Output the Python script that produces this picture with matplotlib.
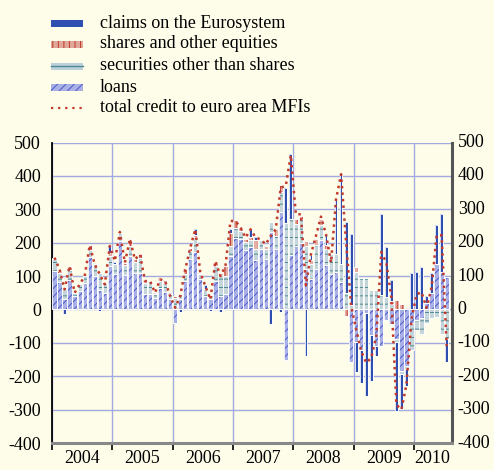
import matplotlib
matplotlib.use("Agg")
import matplotlib.pyplot as plt
from matplotlib.patches import Rectangle
from matplotlib.lines import Line2D
import matplotlib.transforms as mtransforms
import numpy as np

plt.rcParams['font.family'] = ['Liberation Serif', 'DejaVu Serif']
plt.rcParams['hatch.linewidth'] = 0.7
plt.rcParams['axes.unicode_minus'] = False

years = ['2004', '2005', '2006', '2007', '2008', '2009', '2010']

loans = [115, 82, 32, 88, 40, 55, 80, 157, 100, 58, 50, 130,
         105, 205, 102, 160, 108, 110, 45, 45, 35, 65, 52, 30,
         -40, 30, 85, 152, 172, 92, 40, 32, 85, 40, 45, 160,
         214, 210, 177, 187, 147, 182, 150, 232, 180, 292, -150, 162,
         190, 200, 120, 92, 122, 207, 134, 107, 112, 82, 0, -156,
         -98, -120, -10, -78, -110, -108, -33, -45, -88, -183, -168, -40,
         -33, -25, 20, 50, 137, 112, 97]
securities = [35, 28, 28, 30, 10, 20, 20, 20, 35, 50, 30, 30,
              30, 25, 30, 30, 35, 45, 35, 40, 10, 20, 30, 15,
              35, 15, 20, 23, 45, 13, 20, 10, 45, 62, 55, 30,
              30, 25, 25, 20, 35, 25, 30, 30, 40, 60, 260, 110,
              65, 70, 70, 45, 70, 45, 48, 60, 55, 55, 50, 12,
              112, 94, 94, 57, 57, 42, 37, 15, -10, -10, -10, -80,
              -30, -50, -40, -25, -23, -73, -88]
shares = [5, 5, 5, 10, 0, 0, 0, 15, 0, 0, 0, 10,
          0, 0, 8, 20, 7, 10, 5, 0, 0, 5, 5, 0,
          5, 0, 15, 10, 5, 5, 0, 0, 10, 8, 30, 40,
          23, 10, 10, 10, 25, 0, 10, 0, 20, 20, 0, 0,
          15, 10, 15, 10, 20, 20, 10, 0, 0, 0, -20, 0,
          15, 0, 0, 0, 0, 0, 0, 10, 27, 15, 0, 0,
          0, 0, 0, 0, 0, 0, 0]
claims = [0, 0, -15, 0, 0, 0, 0, 0, 0, -5, 0, 20,
          8, 0, 0, 0, 0, 0, 0, 0, 5, 0, 0, 5,
          0, -8, 0, 0, 18, 0, 13, -5, 0, -8, 0, 10,
          0, 0, 0, 25, 10, 0, 0, -43, 0, -7, 105, 193,
          0, 0, -140, 15, 0, 0, 35, 0, 160, 270, 212, 213,
          -90, -100, -250, -135, -30, 245, 150, 62, -205, -105, -50, 109,
          112, 127, 20, 60, 115, 175, -68]
total = [155, 120, 60, 130, 50, 75, 100, 192, 135, 105, 75, 190,
         145, 232, 140, 210, 150, 165, 85, 85, 50, 90, 85, 40,
         5, 40, 120, 185, 240, 110, 70, 30, 145, 100, 130, 265,
         265, 245, 215, 240, 215, 210, 195, 220, 240, 365, 370, 462,
         285, 285, 72, 165, 220, 278, 225, 140, 330, 405, 200, 10,
         -60, -125, -160, -145, -80, 172, 140, 35, -285, -300, -225, -30,
         45, 52, 5, 65, 222, 222, -110]

n = len(total)
x = np.arange(n) + 0.5

BG = '#fefde9'
FS = 13
fig = plt.figure(figsize=(4.94, 4.70), dpi=100, facecolor=BG)
ax = fig.add_axes([52 / 494, 1 - 443 / 470, (451.7 - 52) / 494, (443 - 142.5) / 470])
ax.set_facecolor(BG)

series = [
    (loans, '#a9b0e6', '#4a5ac8', '////', 0.85),
    (securities, '#c4d6da', '#4f8a90', '--', 0.85),
    (shares, '#e4b0a4', '#c0392b', '|||', 0.85),
    (claims, '#2f4fb0', '#2f4fb0', '', 0.55),
]
pos_base = np.zeros(n)
neg_base = np.zeros(n)
for vals, fc, hc, hatch, w in series:
    v = np.array(vals, dtype=float)
    p = np.where(v > 0, v, 0)
    q = np.where(v < 0, v, 0)
    for part, base in ((p, pos_base), (q, neg_base)):
        ax.bar(x, part, bottom=base, width=w, color=fc, edgecolor=hc,
               hatch=hatch if hatch else None, linewidth=0, zorder=3)
        ax.bar(x, part, bottom=base, width=w, fill=False, edgecolor='white',
               linewidth=0.6, zorder=3.5)
    pos_base = pos_base + p
    neg_base = neg_base + q

ax.plot(x, total, color='#c0392b', linestyle=(0, (1, 1.6)), linewidth=1.8,
        zorder=5)

ax.hlines(0, 0, 57.6, color='black', linewidth=1.3, zorder=2)

ax.set_xlim(0, 79.5)
ax.set_ylim(-400, 500)
yt = np.arange(-400, 501, 100)
ax.set_yticks(yt)
ax.set_xticks(np.arange(0, 73, 12))
ax.set_xticks([6, 18, 30, 42, 54, 66, 75.7], minor=True)
ax.set_xticklabels([])
ax.set_xticklabels(years, minor=True)
ax.tick_params(axis='x', which='major', length=5, width=1.2, direction='out', color='black')
ax.tick_params(axis='x', which='minor', length=0, labelsize=FS, pad=5)
ax.tick_params(axis='y', length=0, labelsize=FS, pad=8, labelleft=True, labelright=False)

rt = mtransforms.blended_transform_factory(ax.transAxes, ax.transData)
for v in yt:
    ax.text(1 + 6 / 399.7, v, str(v), transform=rt, ha='left', va='center',
            fontsize=FS, clip_on=False)

ax.grid(True, which='major', color='#a3aae0', linewidth=1.0, zorder=0)
ax.set_axisbelow(True)
ax.spines['top'].set_visible(False)
ax.spines['left'].set_color('black')
ax.spines['left'].set_linewidth(1.3)
ax.spines['right'].set_color('#555555')
ax.spines['right'].set_linewidth(2.2)
ax.spines['bottom'].set_color('#888888')
ax.spines['bottom'].set_linewidth(2.2)

# legend
labels = ['claims on the Eurosystem', 'shares and other equities',
          'securities other than shares', 'loans',
          'total credit to euro area MFIs']
rows = [23, 44, 66, 87, 108]
legend_style = [
    ('#2f4fb0', '#2f4fb0', None),
    ('#e0a898', '#c0392b', '|||'),
    ('#bccfda', '#bccfda', None),
    ('#a9b0e6', '#4a5ac8', '////'),
]
for i, (lab, ry) in enumerate(zip(labels, rows)):
    yf = 1 - ry / 470
    if i < 4:
        fc, hc, hatch = legend_style[i]
        r = Rectangle((51 / 494, yf - 3.5 / 470), 32 / 494, 7 / 470,
                      transform=fig.transFigure, facecolor=fc, edgecolor=hc,
                      hatch=hatch, linewidth=0)
        fig.add_artist(r)
        if i == 2:
            fig.add_artist(Line2D([51 / 494, 83 / 494], [yf, yf], transform=fig.transFigure,
                                  color='#4f8a90', linewidth=1.0))
    else:
        fig.add_artist(Line2D([51 / 494, 83 / 494], [yf, yf], transform=fig.transFigure,
                              color='#c0392b', linestyle=(0, (1, 2.2)), linewidth=1.6))
    fig.text(100 / 494, yf, lab, fontsize=FS, va='center', ha='left')

fig.savefig('out.png', dpi=100, facecolor=BG)
